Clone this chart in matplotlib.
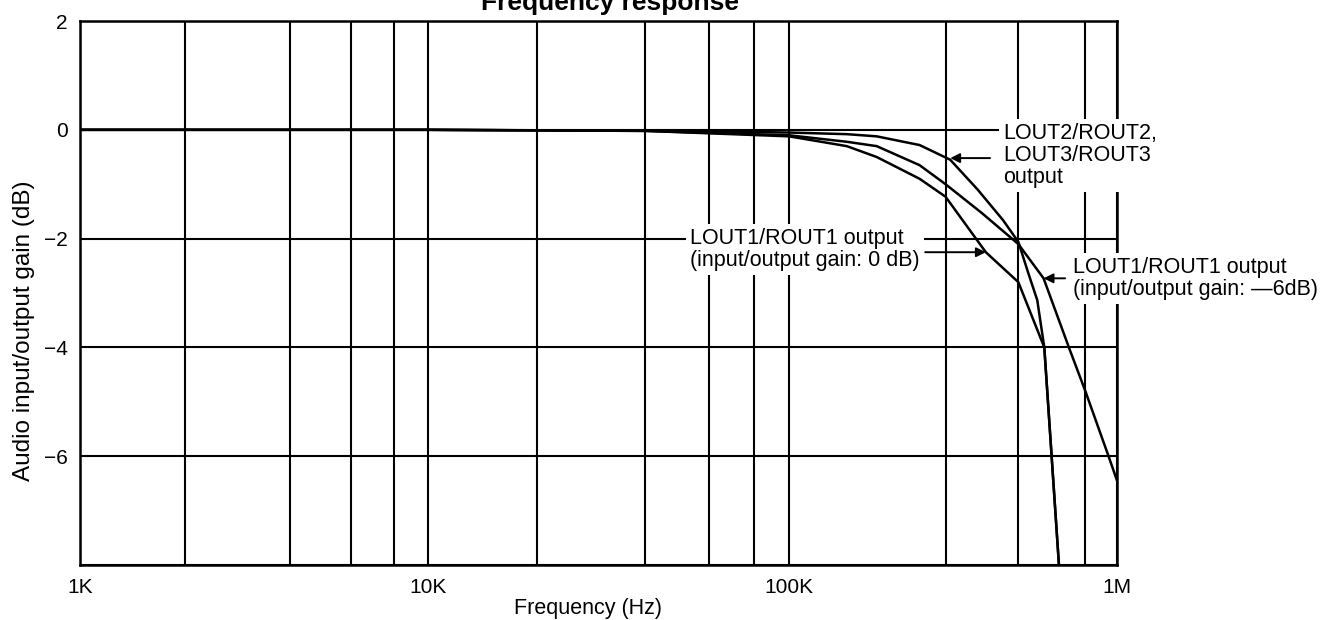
import numpy as np
import matplotlib
matplotlib.use("Agg")
import matplotlib.pyplot as plt
from matplotlib.ticker import NullFormatter

plt.rcParams['font.family'] = ['Liberation Sans', 'DejaVu Sans']

# frequency (Hz) / gain (dB)
freq_out23 = [1e3, 1e4, 5e4, 1e5, 1.5e5, 1.85e5, 2.5e5, 3.1e5, 3.76e5, 4.49e5, 5e5, 5.36e5, 5.71e5, 6e5, 6.65e5]
gain_out23 = [0, 0, -0.02, -0.05, -0.08, -0.12, -0.28, -0.55, -1.1, -1.66, -2.06, -2.63, -3.13, -4.0, -8.0]

freq_out1_0db = [1e3, 1e4, 4e4, 1e5, 1.5e5, 1.85e5, 2.5e5, 3e5, 3.98e5, 5e5, 6e5, 6.65e5]
gain_out1_0db = [0, 0, -0.02, -0.12, -0.3, -0.5, -0.9, -1.23, -2.25, -2.8, -4.0, -8.0]

freq_out1_6db = [1e3, 1e4, 4e4, 1e5, 1.5e5, 1.85e5, 2.5e5, 3e5, 3.87e5, 5e5, 5.97e5, 7.13e5, 8e5, 9.42e5, 1e6]
gain_out1_6db = [0, 0, -0.02, -0.1, -0.22, -0.3, -0.65, -1.0, -1.53, -2.1, -2.73, -4.0, -4.8, -6.0, -6.45]

major_freqs = [1e3, 1e4, 1e5, 1e6]
major_labels = ['1K', '10K', '100K', '1M']
minor_freqs = [2e3, 4e3, 6e3, 8e3, 2e4, 4e4, 6e4, 8e4, 3e5, 5e5, 8e5]
gain_ticks = [2, 0, -2, -4, -6, -8]
gain_labels = ['2', '0', '\u22122', '\u22124', '\u22126', '']

# the printed decades are not quite equal width, so log axis is piecewise per decade
dec_log = [3, 4, 5, 6]
dec_pos = [0, 348, 709, 1037]

def fwd(f):
    return np.interp(np.log10(np.maximum(f, 1e-12)), dec_log, dec_pos)

def inv(p):
    return 10 ** np.interp(p, dec_pos, dec_log)

fig = plt.figure(figsize=(13.27, 6.2), dpi=100)
ax = fig.add_axes([0.0603, 0.0887, 0.7815, 0.8774])

for f, g in [(freq_out23, gain_out23), (freq_out1_0db, gain_out1_0db), (freq_out1_6db, gain_out1_6db)]:
    ax.plot(f, g, color='black', lw=1.8, zorder=2.2)

ax.set_xscale('function', functions=(fwd, inv))
ax.set_xlim(1e3, 1e6)
ax.set_ylim(-8, 2)
ax.set_xticks(major_freqs, labels=major_labels)
ax.set_xticks(minor_freqs, minor=True)
ax.xaxis.set_minor_formatter(NullFormatter())
ax.set_yticks(gain_ticks, labels=gain_labels)
ax.tick_params(which='both', length=0, labelsize=15, pad=9)
ax.grid(True, which='both', axis='x', color='black', lw=1.5)
ax.grid(True, which='major', axis='y', color='black', lw=1.5)
for s in ax.spines.values():
    s.set_linewidth(1.8)

ax.set_xlabel('Frequency (Hz)', fontsize=15.5)
ax.xaxis.set_label_coords(0.49, -0.06)
ax.set_ylabel('Audio input/output gain (dB)', fontsize=17.5)
ax.yaxis.set_label_coords(-0.043, 0.43)

fig.text(0.4597, 0.984, 'Frequency response', ha='center', va='baseline',
         fontsize=19, fontweight='bold')

box = dict(facecolor='white', edgecolor='none', pad=3)
arrow = dict(arrowstyle='-|>', color='black', lw=1.4, mutation_scale=14, shrinkA=0, shrinkB=0)

ax.text(0.890, 0.8125, 'LOUT2/ROUT2,\nLOUT3/ROUT3\noutput', transform=ax.transAxes,
        ha='left', va='top', fontsize=15.5, linespacing=1.05, bbox=box, zorder=4)
ax.annotate('', xy=(3.1e5, -0.52), xycoords='data', xytext=(0.8775, 0.748),
            textcoords='axes fraction', arrowprops=arrow)

ax.text(0.588, 0.6195, 'LOUT1/ROUT1 output\n(input/output gain: 0 dB)', transform=ax.transAxes,
        ha='left', va='top', fontsize=15.5, linespacing=1.05, bbox=box, zorder=4)
ax.annotate('', xy=(3.98e5, -2.25), xycoords='data', xytext=(0.815, 0.575),
            textcoords='axes fraction', arrowprops=arrow)

ax.text(0.9576, 0.566, 'LOUT1/ROUT1 output\n(input/output gain: \u20146dB)', transform=ax.transAxes,
        ha='left', va='top', fontsize=15.5, linespacing=1.05, bbox=box, zorder=4)
ax.annotate('', xy=(5.97e5, -2.73), xycoords='data', xytext=(0.950, 0.527),
            textcoords='axes fraction', arrowprops=arrow)

fig.savefig('out.png', dpi=100)
